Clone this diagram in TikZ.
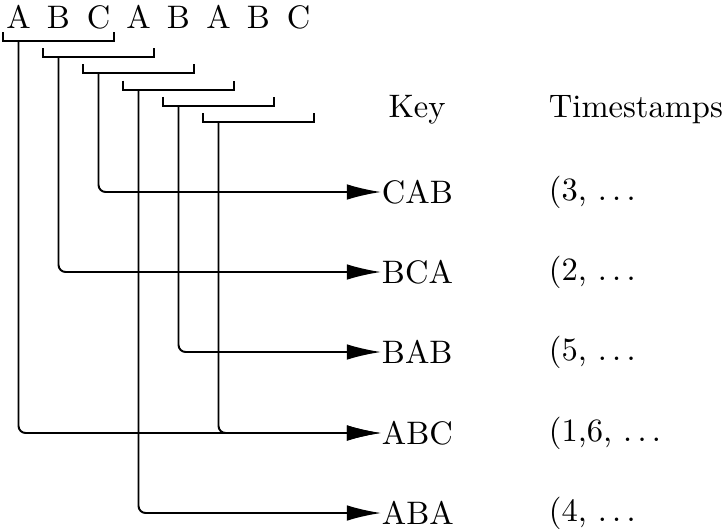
\documentclass[tikz,border=0pt]{standalone}
\usepackage{tikz}
\usetikzlibrary{arrows.meta}

\begin{document}
\begin{tikzpicture}[x=0.0108cm, y=-0.0108cm, line width=0.6pt,
    link/.style={draw, rounded corners=2.2pt, -{Latex[length=10.5pt,width=4.8pt]}, to path={|- (\tikztotarget)}},
    key/.style={anchor=west, inner sep=0pt},
    stamp/.style={anchor=west, inner sep=0pt}]
    \useasboundingbox (0,0) rectangle (725,530);

    \foreach \c [count=\i] in {A,B,C,A,B,A,B,C}
        \node (l\i) at (18.5+40*\i-40, 17) {\c};

    \foreach \i in {1,...,6} {
        \draw (3+40*\i-40, 32+16.2*\i-16.2) |- (114+40*\i-40, 41+16.2*\i-16.2) -- (114+40*\i-40, 32+16.2*\i-16.2);
        \coordinate (b\i) at (18.5+40*\i-40, 41+16.2*\i-16.2);
    }

    \node (key) at (417, 110) {Key};
    \node[stamp] (ts) at (548, 110) {Timestamps};

    \node[key] (cab) at (381, 192) {CAB};
    \node[key] (bca) at (381, 272) {BCA};
    \node[key] (bab) at (381, 352) {BAB};
    \node[key] (abc) at (381, 433) {ABC};
    \node[key] (aba) at (381, 513) {ABA};

    \node[stamp] (tcab) at (548, 192) {(3, $\dots$};
    \node[stamp] (tbca) at (548, 272) {(2, $\dots$};
    \node[stamp] (tbab) at (548, 352) {(5, $\dots$};
    \node[stamp] (tabc) at (548, 433) {(1,6, $\dots$};
    \node[stamp] (taba) at (548, 513) {(4, $\dots$};

    \path
        (b1) edge [link] (abc.west)
        (b2) edge [link] (bca.west)
        (b3) edge [link] (cab.west)
        (b4) edge [link] (aba.west)
        (b5) edge [link] (bab.west)
        (b6) edge [link] (abc.west)
    ;
\end{tikzpicture}
\end{document}
